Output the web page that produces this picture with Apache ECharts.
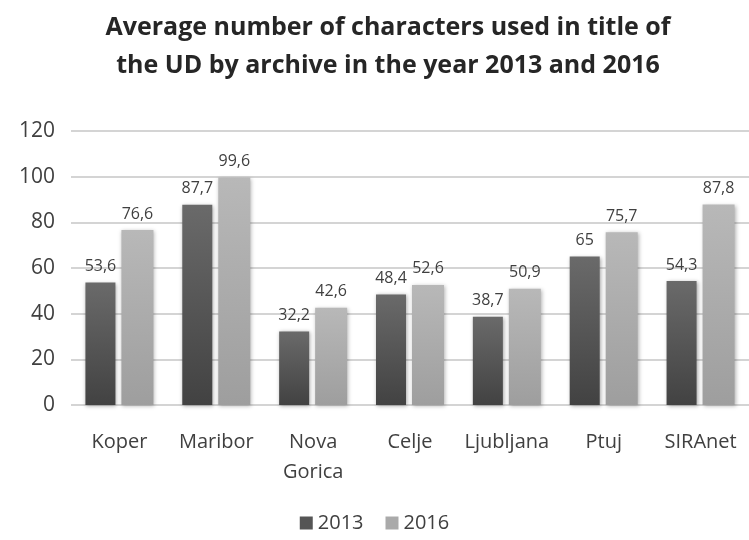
<!DOCTYPE html>
<html>
<head>
    <meta charset="utf-8" />
    <style>
        html, body { margin: 0; padding: 0; background: #fff; }
        #barChart { width: 749px; height: 540px; }
    </style>
    <script src="https://cdn.jsdelivr.net/npm/echarts@6/dist/echarts.min.js"></script>
</head>
<body>
    <div id="barChart"></div>
    <script type="text/javascript">
        // archives and values
        var archives = ['Koper', 'Maribor', 'Nova\nGorica', 'Celje', 'Ljubljana', 'Ptuj', 'SIRAnet'];
        var values2013 = [53.6, 87.7, 32.2, 48.4, 38.7, 65, 54.3];
        var values2016 = [76.6, 99.6, 42.6, 52.6, 50.9, 75.7, 87.8];
        var yTicks = { min: 0, max: 120, interval: 20 };

        var fontName = '"Open Sans", "Noto Sans", sans-serif';

        // 数值标签用逗号作小数点
        function commaLabel(p) {
            return String(p.value).replace('.', ',');
        }

        function grad(top, bottom) {
            return new echarts.graphic.LinearGradient(0, 0, 0, 1, [
                { offset: 0, color: top },
                { offset: 1, color: bottom }
            ]);
        }

        var myBarChart = echarts.init(document.getElementById('barChart'));
        var barOptions = {
            backgroundColor: '#fff',
            animation: false,
            title: {
                text: 'Average number of characters used in title of\nthe UD by archive in the year 2013 and 2016',
                left: 383,
                textAlign: 'center',
                top: 4,
                textStyle: {
                    fontFamily: fontName,
                    fontWeight: 'bold',
                    fontSize: 25,
                    lineHeight: 38,
                    color: '#262626'
                }
            },
            legend: {
                bottom: 2,
                left: 'center',
                itemWidth: 13,
                itemHeight: 13,
                itemGap: 22,
                icon: 'rect',
                textStyle: { fontFamily: fontName, fontSize: 20, color: '#404040' },
                data: [
                    { name: '2013', itemStyle: { color: '#555555' } },
                    { name: '2016', itemStyle: { color: '#aaaaaa' } }
                ]
            },
            grid: { left: 71, width: 682, top: 131, bottom: 135 },
            xAxis: {
                type: 'category',
                data: archives,
                axisLine: { show: false },
                axisTick: { show: false },
                axisLabel: {
                    interval: 0,
                    margin: 22,
                    fontFamily: fontName,
                    fontSize: 20,
                    lineHeight: 30,
                    color: '#404040'
                }
            },
            yAxis: {
                type: 'value',
                min: yTicks.min,
                max: yTicks.max,
                interval: yTicks.interval,
                axisLine: { show: false },
                axisTick: { show: false },
                axisLabel: {
                    margin: 16,
                    fontFamily: fontName,
                    fontSize: 21,
                    color: '#404040'
                },
                splitLine: { lineStyle: { color: '#d4d4d4', width: 2 } }
            },
            series: [
                {
                    name: '2013',
                    type: 'bar',
                    data: values2013,
                    barWidth: 30,
                    barGap: '20%',
                    itemStyle: {
                        color: grad('#6a6a6a', '#424242'),
                        shadowColor: 'rgba(0,0,0,0.35)',
                        shadowBlur: 4,
                        shadowOffsetX: 1,
                        shadowOffsetY: 1
                    },
                    label: {
                        show: true,
                        position: 'top',
                        distance: 8,
                        formatter: commaLabel,
                        fontFamily: fontName,
                        fontSize: 16,
                        color: '#404040'
                    }
                },
                {
                    name: '2016',
                    type: 'bar',
                    data: values2016,
                    barWidth: 32,
                    itemStyle: {
                        color: grad('#b8b8b8', '#9e9e9e'),
                        shadowColor: 'rgba(0,0,0,0.3)',
                        shadowBlur: 4,
                        shadowOffsetX: 1,
                        shadowOffsetY: 1
                    },
                    label: {
                        show: true,
                        position: 'top',
                        distance: 8,
                        formatter: commaLabel,
                        fontFamily: fontName,
                        fontSize: 16,
                        color: '#404040'
                    }
                }
            ]
        };
        myBarChart.setOption(barOptions);
    </script>
</body>
</html>
